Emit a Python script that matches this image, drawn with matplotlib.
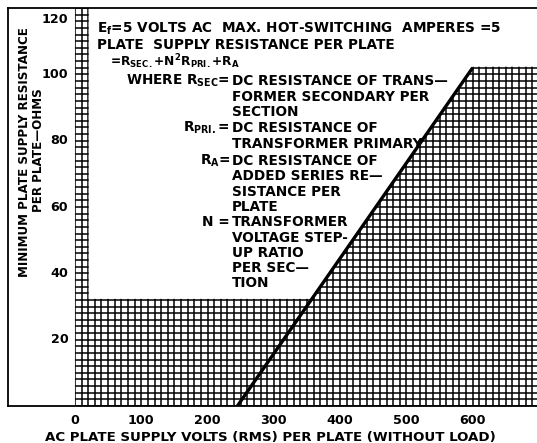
import numpy as np
import matplotlib
matplotlib.use("Agg")
import matplotlib.pyplot as plt
from matplotlib.patches import Polygon

plt.rcParams['font.family'] = ['DejaVu Sans']
plt.rcParams['font.weight'] = 'bold'
plt.rcParams['mathtext.fontset'] = 'custom'
plt.rcParams['mathtext.rm'] = 'DejaVu Sans:bold'
plt.rcParams['mathtext.it'] = 'DejaVu Sans:bold'
plt.rcParams['mathtext.bf'] = 'DejaVu Sans:bold'

# limiting line: min plate supply resistance vs plate volts
volts = [245, 600]
ohms = [0, 102]

x_ticks = [0, 100, 200, 300, 400, 500, 600]
y_ticks = [20, 40, 60, 80, 100, 120]

W, H = 537, 443
fig = plt.figure(figsize=(W / 100, H / 100), dpi=100)
ax = fig.add_axes([8 / W, 37 / H, 529 / W, 398 / H])
ax.set_xlim(-101, 697)
ax.set_ylim(0, 120)

# graph paper only where the chart is shaded
v32 = np.interp(32, ohms, volts)
region = Polygon([(0, 0), (697, 0), (697, ohms[1] + 0.3), (volts[1], ohms[1] + 0.3),
                  (v32, 32.3), (20.6, 32.3), (20.6, 120), (0, 120)],
                 closed=True, facecolor='none', edgecolor='none')
ax.add_patch(region)
gx = np.arange(0, 700, 10)
gy = np.arange(0, 122, 2)
vl = ax.vlines(gx, 0, 120, color='black', lw=1.1)
hl = ax.hlines(gy, 0, 697, color='black', lw=1.1)
vl.set_clip_path(region)
hl.set_clip_path(region)

ax.plot(volts, ohms, color='black', lw=2.4, solid_capstyle='butt')

for s in ['left', 'top', 'bottom']:
    ax.spines[s].set_linewidth(1.3)
ax.spines['right'].set_visible(False)

ax.set_xticks(x_ticks)
ax.set_xticklabels([str(t) for t in x_ticks], fontsize=9.2, fontweight='bold')
ax.tick_params(axis='x', length=0, pad=6)
ax.set_yticks([])
for t in y_ticks:
    ax.text(-10, t - 1.5 if t == 120 else t, str(t), ha='right',
            va='top' if t == 120 else 'center', fontsize=9.2, fontweight='bold')

def px(x, y, s, **kw):
    kw.setdefault('fontsize', 9.8)
    kw.setdefault('va', 'center')
    fig.text(x / W, 1 - y / H, s, fontweight='bold', **kw)

px(270, 437, 'AC PLATE SUPPLY VOLTS (RMS) PER PLATE (WITHOUT LOAD)', ha='center', fontsize=9.6)
px(25, 152, 'MINIMUM PLATE SUPPLY RESISTANCE', ha='center', rotation=90, fontsize=8.6)
px(38, 150, 'PER PLATE\u2014OHMS', ha='center', rotation=90, fontsize=8.6)

px(97, 29, r'E$_f$=5 VOLTS AC  MAX. HOT-SWITCHING  AMPERES =5')
px(97, 45, 'PLATE  SUPPLY RESISTANCE PER PLATE')
px(110, 62, r'=R$_{SEC.}$+N$^2$R$_{PRI.}$+R$_A$', fontsize=8.8)

notes = [
    (81, r'WHERE R$_{SEC}$=', 'DC RESISTANCE OF TRANS\u2014'),
    (97, '', 'FORMER SECONDARY PER'),
    (112, '', 'SECTION'),
    (128, r'R$_{PRI.}$=', 'DC RESISTANCE OF'),
    (144, '', 'TRANSFORMER PRIMARY'),
    (161, r'R$_A$=', 'DC RESISTANCE OF'),
    (176, '', 'ADDED SERIES RE\u2014'),
    (192, '', 'SISTANCE PER'),
    (207, '', 'PLATE'),
    (222, 'N =', 'TRANSFORMER'),
    (238, '', 'VOLTAGE STEP-'),
    (253, '', 'UP RATIO'),
    (268, '', 'PER SEC\u2014'),
    (283, '', 'TION'),
]
for y, key, desc in notes:
    if key:
        px(230, y, key, ha='right')
    px(232, y, desc, ha='left')

fig.savefig('out.png', dpi=100)
